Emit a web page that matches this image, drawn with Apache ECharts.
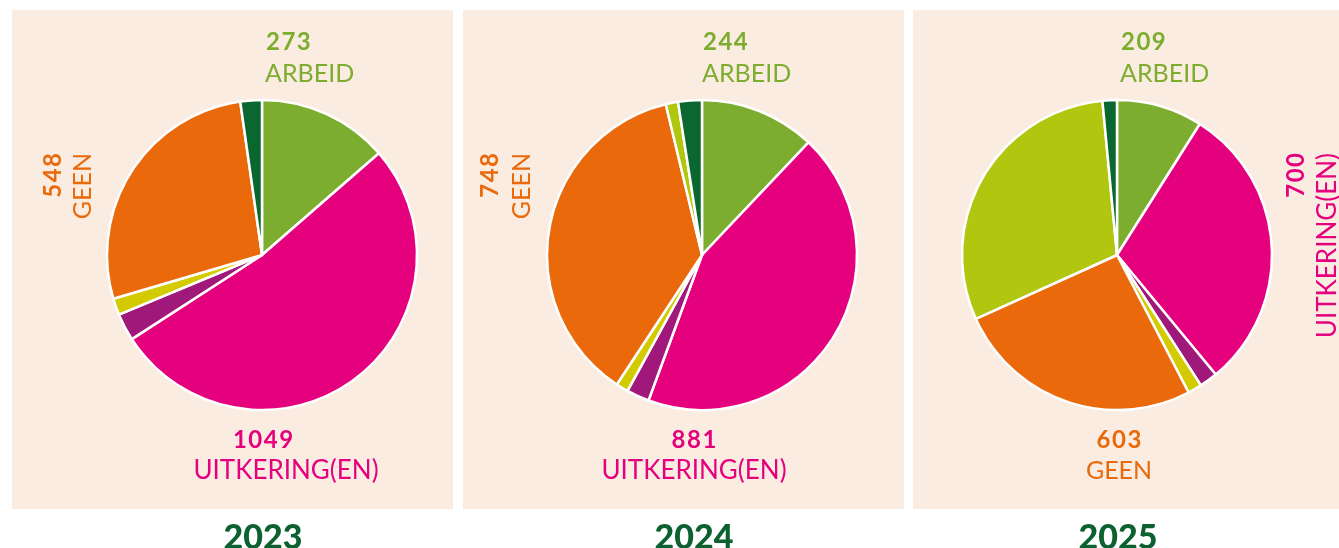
<!DOCTYPE html>
<html>
<head>
<meta charset="utf-8">
<script src="https://cdn.jsdelivr.net/npm/echarts@6/dist/echarts.min.js"></script>
<style>
  html, body { margin: 0; padding: 0; background: #fff; }
  #chart { width: 1339px; height: 548px; }
</style>
</head>
<body>
<div id="chart"></div>
<script>
// categorieen (kloksgewijs vanaf 12 uur)
var categories = ['Arbeid', 'Uitkering(en)', 'Overig 1', 'Overig 2', 'Geen', 'Overig 3', 'Overig 4'];
var colors     = ['#7DAD2E', '#E5007D', '#A0197A', '#D4CA00', '#EA690A', '#B1C70F', '#0B6730'];

var years      = ['2023', '2024', '2025'];
var values2023 = [273, 1049, 57, 35, 548, 0, 45];
var values2024 = [244, 881, 48, 26, 748, 26, 50];
var values2025 = [209, 700, 44, 34, 603, 705, 35];

var bg = '#FBECE2';
var font = 'Lato, "Open Sans", sans-serif';

var myChart = echarts.init(document.getElementById('chart'), null, {renderer: 'canvas'});

// taartdata opbouwen, lege segmenten weglaten
function buildData(values){
	var data = [];
	for(var i=0;i<values.length;i++){
		if(values[i] > 0){
			data.push({name: categories[i], value: values[i], itemStyle: {color: colors[i]}});
		}
	}
	return data;
}

function pie(values, cx){
	return {
		type: 'pie',
		center: [cx, 255],
		radius: [0, 155],
		startAngle: 90,
		clockwise: true,
		silent: true,
		label: {show: false},
		labelLine: {show: false},
		itemStyle: {borderColor: '#fff', borderWidth: 2.5},
		data: buildData(values)
	};
}

// getallen wat ruimer zetten (geen letterSpacing in canvas)
function spaced(v){
	return String(v).split('').join('\u200A');
}

// tekstjes
function txt(text, x, y, color, size, weight, align, rot){
	return {
		type: 'text',
		x: x, y: y,
		rotation: rot || 0,
		z: 10,
		style: {
			text: text,
			fill: color,
			font: weight + ' ' + size + 'px ' + font,
			textAlign: align,
			textVerticalAlign: 'middle'
		}
	};
}

var graphics = [
	{type: 'rect', shape: {x: 12, y: 10, width: 441, height: 499}, style: {fill: bg}, z: -10},
	{type: 'rect', shape: {x: 463, y: 10, width: 441, height: 499}, style: {fill: bg}, z: -10},
	{type: 'rect', shape: {x: 913, y: 10, width: 426, height: 499}, style: {fill: bg}, z: -10},

	// 2023
	txt(spaced(values2023[0]), 266, 42, colors[0], 24, 'bold', 'left'),
	txt('ARBEID', 265, 74, colors[0], 25, 'normal', 'left'),
	txt(spaced(values2023[4]), 53, 153, colors[4], 24, 'bold', 'right', Math.PI/2),
	txt('GEEN', 83, 153, colors[4], 25, 'normal', 'right', Math.PI/2),
	txt(spaced(values2023[1]), 263, 440, colors[1], 24, 'bold', 'center'),
	txt('UITKERING(EN)', 286, 471, colors[1], 26, 'normal', 'center'),

	// 2024
	txt(spaced(values2024[0]), 703, 42, colors[0], 24, 'bold', 'left'),
	txt('ARBEID', 702, 74, colors[0], 25, 'normal', 'left'),
	txt(spaced(values2024[4]), 490, 153, colors[4], 24, 'bold', 'right', Math.PI/2),
	txt('GEEN', 522, 153, colors[4], 25, 'normal', 'right', Math.PI/2),
	txt(spaced(values2024[1]), 694, 440, colors[1], 24, 'bold', 'center'),
	txt('UITKERING(EN)', 694, 471, colors[1], 26, 'normal', 'center'),

	// 2025
	txt(spaced(values2025[0]), 1121, 42, colors[0], 24, 'bold', 'left'),
	txt('ARBEID', 1120, 74, colors[0], 25, 'normal', 'left'),
	txt(spaced(values2025[1]), 1296, 153, colors[1], 24, 'bold', 'right', Math.PI/2),
	txt('UITKERING(EN)', 1328, 153, colors[1], 26, 'normal', 'right', Math.PI/2),
	txt(spaced(values2025[4]), 1119, 440, colors[4], 24, 'bold', 'center'),
	txt('GEEN', 1119, 471, colors[4], 25, 'normal', 'center'),

	// jaartallen
	txt(years[0], 263, 538, '#0B6130', 34, '900', 'center'),
	txt(years[1], 694, 538, '#0B6130', 34, '900', 'center'),
	txt(years[2], 1118, 538, '#0B6130', 34, '900', 'center')
];

var option = {
	animation: false,
	backgroundColor: '#fff',
	graphic: graphics,
	series: [
		pie(values2023, 262),
		pie(values2024, 702),
		pie(values2025, 1117)
	]
};
myChart.setOption(option);
</script>
</body>
</html>
